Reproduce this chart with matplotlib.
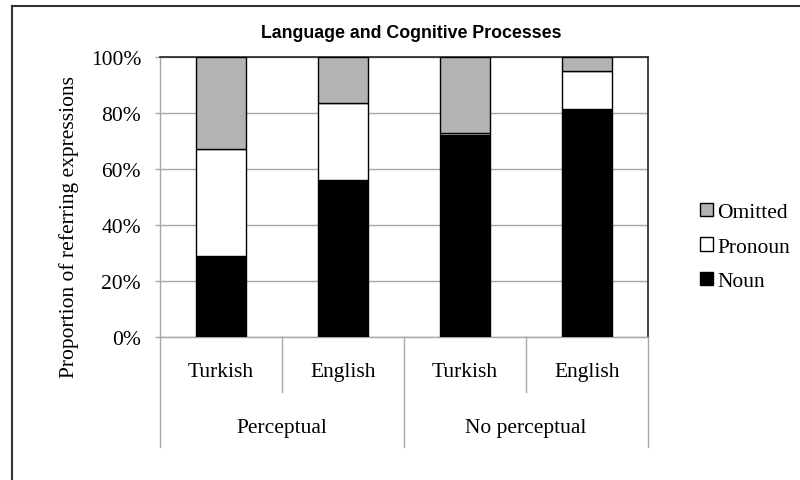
import matplotlib
matplotlib.use("Agg")
import matplotlib.pyplot as plt
import matplotlib.transforms as mtransforms
from matplotlib.patches import Patch
from matplotlib.lines import Line2D

languages = ["Turkish", "English", "Turkish", "English"]
groups = ["Perceptual", "No perceptual"]
noun = [29, 56, 72, 81.5]
pronoun = [38, 27.5, 1, 13.5]
omitted = [33, 16.5, 27, 5]
yticks = [0, 20, 40, 60, 80, 100]
ytick_labels = ["0%", "20%", "40%", "60%", "80%", "100%"]

serif = "Liberation Serif"
sans = "Liberation Sans"
fs = 15.5

fig = plt.figure(figsize=(8, 4.81), dpi=100)
ax = fig.add_axes([160/800, 1 - 338/481, 488/800, 280/481])

x = list(range(len(languages)))
w = 0.41
gray = "#b3b3b3"
ax.bar(x, noun, w, color="black", edgecolor="black", linewidth=1, zorder=3, label="Noun")
ax.bar(x, pronoun, w, bottom=noun, color="white", edgecolor="black", linewidth=1, zorder=3, label="Pronoun")
bot2 = [a + b for a, b in zip(noun, pronoun)]
ax.bar(x, omitted, w, bottom=bot2, color=gray, edgecolor="black", linewidth=1, zorder=3, label="Omitted")

ax.set_xlim(-0.5, 3.5)
ax.set_ylim(0, 100)
ax.set_yticks(yticks)
ax.set_yticklabels(ytick_labels, fontfamily=serif, fontsize=fs)
ax.yaxis.grid(True, color="#a6a6a6", linewidth=1, zorder=0)
ax.tick_params(axis="y", length=3.6, color="#a6a6a6", width=1, pad=10)
ax.set_xticks(x)
ax.set_xticklabels(languages, fontfamily=serif, fontsize=fs)
ax.tick_params(axis="x", length=0, pad=18)
for s in ["left", "bottom"]:
    ax.spines[s].set_color("#a6a6a6")
    ax.spines[s].set_linewidth(1)
for s in ["top", "right"]:
    ax.spines[s].set_color("#222222")
    ax.spines[s].set_linewidth(1.2)

ax.set_ylabel("Proportion of referring expressions", fontfamily=serif, fontsize=fs)
ax.yaxis.set_label_coords(-0.166, 0.396)

trans = mtransforms.blended_transform_factory(ax.transData, ax.transAxes)
# category-axis dividers
for xv in [0.5, 2.5]:
    ax.add_line(Line2D([xv, xv], [0, -0.196], transform=trans, color="#a6a6a6", lw=1, clip_on=False))
for xv in [-0.5, 1.5, 3.5]:
    ax.add_line(Line2D([xv, xv], [0, -0.393], transform=trans, color="#a6a6a6", lw=1, clip_on=False))
for gi, g in enumerate(groups):
    ax.text(gi * 2 + 0.5, -0.322, g, transform=trans, ha="center", va="center",
            fontfamily=serif, fontsize=fs)

fig.text(411/800, 1 - 34/481, "Language and Cognitive Processes", ha="center", va="center",
         fontfamily=sans, fontweight="bold", fontsize=12.8)

handles = [Patch(facecolor=gray, edgecolor="black", linewidth=1),
           Patch(facecolor="white", edgecolor="black", linewidth=1),
           Patch(facecolor="black", edgecolor="black", linewidth=1)]
fig.legend(handles, ["Omitted", "Pronoun", "Noun"], loc="center left",
           bbox_to_anchor=(700/800, 1 - 248/481), frameon=False,
           prop={"family": serif, "size": fs}, handlelength=0.6, handleheight=0.6,
           handletextpad=0.2, labelspacing=0.7, borderaxespad=0, borderpad=0)

# figure border lines (top and left)
fig.add_artist(Line2D([12/800, 1], [1 - 7/481, 1 - 7/481], transform=fig.transFigure, color="#333333", lw=1.5))
fig.add_artist(Line2D([12/800, 12/800], [0, 1 - 7/481], transform=fig.transFigure, color="#333333", lw=1.5))

fig.savefig("out.png", dpi=100)
